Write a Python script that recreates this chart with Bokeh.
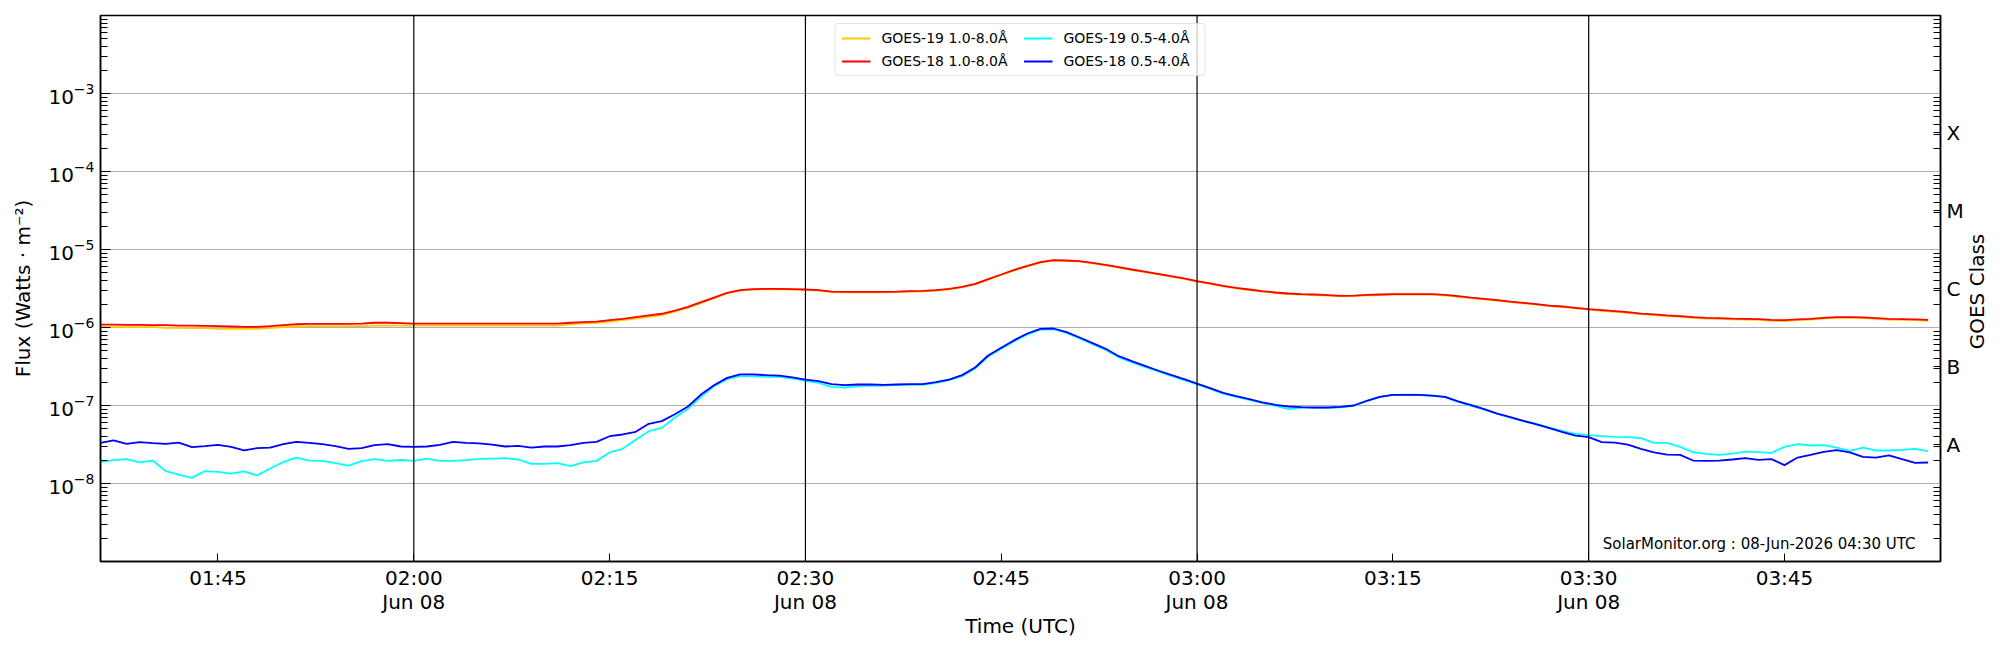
import math
import pandas as pd
from bokeh.plotting import figure
from bokeh.layouts import row
from bokeh.models import (Range1d, FixedTicker, LogAxis, Span, Label, Legend, LegendItem)
from bokeh.embed import file_html
from bokeh.resources import INLINE

# ---------------- data (1-minute cadence from 01:36 UTC, 08 Jun 2026) ----------------
start_time = "2026-06-08 01:36:00"

goes18_long = [  # GOES-18 1.0-8.0 A
    1.09e-6, 1.09e-6, 1.08e-6, 1.08e-6, 1.07e-6, 1.07e-6, 1.06e-6, 1.06e-6, 1.05e-6, 1.04e-6, 1.03e-6, 1.02e-6,
    1.02e-6, 1.04e-6, 1.07e-6, 1.10e-6, 1.11e-6, 1.11e-6, 1.11e-6, 1.11e-6, 1.12e-6, 1.15e-6, 1.15e-6, 1.14e-6,
    1.12e-6, 1.12e-6, 1.12e-6, 1.12e-6, 1.12e-6, 1.12e-6, 1.12e-6, 1.12e-6, 1.12e-6, 1.12e-6, 1.12e-6, 1.12e-6,
    1.15e-6, 1.17e-6, 1.19e-6, 1.24e-6, 1.29e-6, 1.36e-6, 1.43e-6, 1.50e-6, 1.65e-6, 1.84e-6, 2.11e-6, 2.42e-6,
    2.78e-6, 3.01e-6, 3.10e-6, 3.13e-6, 3.13e-6, 3.10e-6, 3.07e-6, 3.01e-6, 2.89e-6, 2.87e-6, 2.87e-6, 2.87e-6,
    2.87e-6, 2.89e-6, 2.92e-6, 2.95e-6, 3.01e-6, 3.13e-6, 3.32e-6, 3.63e-6, 4.17e-6, 4.78e-6, 5.49e-6,
    6.17e-6, 6.88e-6, 7.30e-6, 7.23e-6, 7.09e-6, 6.75e-6, 6.36e-6, 5.94e-6, 5.54e-6, 5.22e-6, 4.88e-6, 4.55e-6,
    4.25e-6, 3.93e-6, 3.67e-6, 3.42e-6, 3.23e-6, 3.07e-6, 2.92e-6, 2.81e-6, 2.73e-6, 2.68e-6, 2.65e-6,
    2.60e-6, 2.55e-6, 2.57e-6, 2.62e-6, 2.65e-6, 2.68e-6, 2.68e-6, 2.68e-6, 2.68e-6, 2.62e-6, 2.52e-6, 2.42e-6,
    2.33e-6, 2.24e-6, 2.15e-6, 2.07e-6, 1.99e-6, 1.91e-6, 1.86e-6, 1.79e-6, 1.72e-6, 1.67e-6, 1.62e-6, 1.57e-6,
    1.51e-6, 1.47e-6, 1.43e-6, 1.40e-6, 1.36e-6, 1.33e-6, 1.32e-6, 1.30e-6, 1.29e-6, 1.28e-6, 1.25e-6, 1.24e-6,
    1.27e-6, 1.29e-6, 1.33e-6, 1.36e-6, 1.36e-6, 1.35e-6, 1.32e-6, 1.29e-6, 1.28e-6, 1.27e-6, 1.25e-6,
]

goes19_long = [  # GOES-19 1.0-8.0 A
    1.02e-6, 1.01e-6, 1.01e-6, 1.01e-6, 1.01e-6, 0.99e-6, 0.99e-6, 0.98e-6, 0.98e-6, 0.96e-6, 0.96e-6, 0.96e-6,
    0.96e-6, 0.98e-6, 1.01e-6, 1.03e-6, 1.04e-6, 1.04e-6, 1.04e-6, 1.04e-6, 1.04e-6, 1.06e-6, 1.06e-6, 1.06e-6,
    1.06e-6, 1.06e-6, 1.06e-6, 1.06e-6, 1.06e-6, 1.06e-6, 1.06e-6, 1.06e-6, 1.06e-6, 1.06e-6, 1.06e-6, 1.06e-6,
    1.10e-6, 1.13e-6, 1.15e-6, 1.19e-6, 1.24e-6, 1.30e-6, 1.37e-6, 1.44e-6, 1.60e-6, 1.79e-6, 2.05e-6, 2.38e-6,
    2.74e-6, 2.97e-6, 3.06e-6, 3.09e-6, 3.09e-6, 3.06e-6, 3.03e-6, 2.97e-6, 2.85e-6, 2.83e-6, 2.83e-6, 2.83e-6,
    2.83e-6, 2.85e-6, 2.88e-6, 2.91e-6, 2.97e-6, 3.09e-6, 3.27e-6, 3.58e-6, 4.11e-6, 4.71e-6, 5.41e-6,
    6.08e-6, 6.78e-6, 7.19e-6, 7.12e-6, 6.98e-6, 6.65e-6, 6.27e-6, 5.85e-6, 5.46e-6, 5.14e-6, 4.81e-6, 4.48e-6,
    4.19e-6, 3.87e-6, 3.62e-6, 3.37e-6, 3.18e-6, 3.02e-6, 2.88e-6, 2.77e-6, 2.69e-6, 2.64e-6, 2.61e-6,
    2.56e-6, 2.51e-6, 2.53e-6, 2.58e-6, 2.61e-6, 2.64e-6, 2.64e-6, 2.64e-6, 2.64e-6, 2.58e-6, 2.48e-6, 2.38e-6,
    2.30e-6, 2.21e-6, 2.12e-6, 2.04e-6, 1.96e-6, 1.88e-6, 1.83e-6, 1.76e-6, 1.69e-6, 1.64e-6, 1.59e-6, 1.54e-6,
    1.48e-6, 1.44e-6, 1.40e-6, 1.37e-6, 1.33e-6, 1.30e-6, 1.29e-6, 1.27e-6, 1.26e-6, 1.25e-6, 1.22e-6, 1.21e-6,
    1.24e-6, 1.26e-6, 1.30e-6, 1.33e-6, 1.33e-6, 1.32e-6, 1.29e-6, 1.26e-6, 1.25e-6, 1.24e-6, 1.22e-6,
]

goes18_short = [  # GOES-18 0.5-4.0 A
    3.32e-8, 3.56e-8, 3.23e-8, 3.39e-8, 3.29e-8, 3.23e-8, 3.35e-8, 2.92e-8, 3.01e-8, 3.13e-8, 2.95e-8, 2.65e-8,
    2.84e-8, 2.89e-8, 3.19e-8, 3.42e-8, 3.32e-8, 3.19e-8, 3.01e-8, 2.78e-8, 2.84e-8, 3.10e-8, 3.19e-8, 2.98e-8,
    2.95e-8, 2.98e-8, 3.13e-8, 3.42e-8, 3.32e-8, 3.26e-8, 3.16e-8, 2.98e-8, 3.04e-8, 2.89e-8, 2.98e-8, 2.98e-8,
    3.10e-8, 3.32e-8, 3.42e-8, 4.04e-8, 4.25e-8, 4.60e-8, 5.82e-8, 6.30e-8, 7.74e-8, 9.71e-8, 1.38e-7, 1.82e-7,
    2.26e-7, 2.50e-7, 2.50e-7, 2.45e-7, 2.42e-7, 2.29e-7, 2.15e-7, 2.05e-7, 1.88e-7, 1.82e-7, 1.86e-7, 1.86e-7,
    1.84e-7, 1.86e-7, 1.88e-7, 1.88e-7, 1.99e-7, 2.15e-7, 2.45e-7, 3.07e-7, 4.38e-7, 5.49e-7, 6.88e-7,
    8.38e-7, 9.61e-7, 9.71e-7, 8.71e-7, 7.44e-7, 6.30e-7, 5.33e-7, 4.29e-7, 3.70e-7, 3.23e-7, 2.81e-7, 2.47e-7,
    2.18e-7, 1.91e-7, 1.67e-7, 1.45e-7, 1.32e-7, 1.21e-7, 1.10e-7, 1.02e-7, 9.71e-8, 9.52e-8, 9.43e-8,
    9.43e-8, 9.61e-8, 1.00e-7, 1.15e-7, 1.29e-7, 1.37e-7, 1.37e-7, 1.37e-7, 1.34e-7, 1.29e-7, 1.13e-7, 1.01e-7,
    8.97e-8, 7.89e-8, 7.09e-8, 6.36e-8, 5.71e-8, 5.12e-8, 4.55e-8, 4.12e-8, 3.93e-8, 3.39e-8, 3.35e-8, 3.16e-8,
    2.78e-8, 2.50e-8, 2.35e-8, 2.33e-8, 1.97e-8, 1.95e-8, 1.97e-8, 2.03e-8, 2.11e-8, 2.01e-8, 2.05e-8, 1.72e-8,
    2.15e-8, 2.33e-8, 2.55e-8, 2.68e-8, 2.50e-8, 2.20e-8, 2.15e-8, 2.29e-8, 2.05e-8, 1.84e-8, 1.86e-8,
]

goes19_short = [  # GOES-19 0.5-4.0 A
    1.88e-8, 1.99e-8, 2.05e-8, 1.86e-8, 1.97e-8, 1.44e-8, 1.30e-8, 1.18e-8, 1.44e-8, 1.41e-8, 1.34e-8, 1.43e-8,
    1.27e-8, 1.56e-8, 1.88e-8, 2.15e-8, 1.97e-8, 1.95e-8, 1.82e-8, 1.70e-8, 1.93e-8, 2.05e-8, 1.95e-8, 2.00e-8,
    1.95e-8, 2.09e-8, 1.95e-8, 1.95e-8, 1.99e-8, 2.07e-8, 2.09e-8, 2.11e-8, 2.03e-8, 1.79e-8, 1.79e-8, 1.82e-8,
    1.67e-8, 1.86e-8, 1.95e-8, 2.50e-8, 2.78e-8, 3.63e-8, 4.69e-8, 5.17e-8, 7.02e-8, 9.07e-8, 1.29e-7, 1.77e-7,
    2.18e-7, 2.38e-7, 2.38e-7, 2.33e-7, 2.33e-7, 2.22e-7, 2.07e-7, 1.95e-7, 1.73e-7, 1.70e-7, 1.77e-7, 1.79e-7,
    1.80e-7, 1.82e-7, 1.84e-7, 1.84e-7, 1.95e-7, 2.11e-7, 2.38e-7, 2.98e-7, 4.25e-7, 5.33e-7, 6.68e-7,
    8.15e-7, 9.40e-7, 9.50e-7, 8.50e-7, 7.25e-7, 6.10e-7, 5.15e-7, 4.15e-7, 3.58e-7, 3.13e-7, 2.73e-7, 2.40e-7,
    2.12e-7, 1.86e-7, 1.63e-7, 1.42e-7, 1.29e-7, 1.18e-7, 1.07e-7, 9.90e-8, 9.00e-8, 9.30e-8, 9.35e-8,
    9.30e-8, 9.50e-8, 9.90e-8, 1.14e-7, 1.29e-7, 1.37e-7, 1.38e-7, 1.37e-7, 1.33e-7, 1.28e-7, 1.11e-7, 9.90e-8,
    8.85e-8, 7.80e-8, 7.00e-8, 6.30e-8, 5.82e-8, 5.22e-8, 4.69e-8, 4.33e-8, 4.17e-8, 4.04e-8, 3.96e-8, 3.93e-8,
    3.81e-8, 3.32e-8, 3.32e-8, 2.95e-8, 2.52e-8, 2.40e-8, 2.33e-8, 2.42e-8, 2.57e-8, 2.52e-8, 2.47e-8, 2.95e-8,
    3.19e-8, 3.07e-8, 3.10e-8, 2.89e-8, 2.62e-8, 2.89e-8, 2.65e-8, 2.65e-8, 2.70e-8, 2.78e-8, 2.60e-8,
]

x_tick_times = ["01:45", "02:00", "02:15", "02:30", "02:45", "03:00", "03:15", "03:30", "03:45"]
x_tick_labels = ["01:45", "02:00\nJun 08", "02:15", "02:30\nJun 08", "02:45",
                 "03:00\nJun 08", "03:15", "03:30\nJun 08", "03:45"]
hour_lines = ["02:00", "02:30", "03:00", "03:30"]
flux_decades = [1e-8, 1e-7, 1e-6, 1e-5, 1e-4, 1e-3]
goes_classes = ["A", "B", "C", "M", "X"]
goes_class_pos = [10 ** -7.5, 10 ** -6.5, 10 ** -5.5, 10 ** -4.5, 10 ** -3.5]
legend_labels = ["GOES-19 1.0-8.0Å", "GOES-18 1.0-8.0Å", "GOES-19 0.5-4.0Å", "GOES-18 0.5-4.0Å"]
watermark = "SolarMonitor.org : 08-Jun-2026 04:30 UTC"

FONT = "DejaVu Sans"
BORDER_L, FRAME_W, BORDER_R = 100, 1840, 26
BORDER_T, FRAME_H, BORDER_B = 15, 546, 87
TOTAL_H = BORDER_T + FRAME_H + BORDER_B
SIDE_W = 2000 - (BORDER_L + FRAME_W + BORDER_R)


def ms(hhmm):
    return pd.Timestamp("2026-06-08 " + hhmm).value // 10 ** 6


def times_for(series):
    return pd.date_range(start_time, periods=len(series), freq="1min")


minor = [m * 10.0 ** k for k in range(-9, -2) for m in range(2, 10)]

p = figure(x_axis_type="datetime", y_axis_type="log",
           frame_width=FRAME_W, frame_height=FRAME_H,
           x_range=Range1d(pd.Timestamp("2026-06-08 01:36:00"), pd.Timestamp("2026-06-08 03:56:57")),
           y_range=Range1d(1e-9, 1e-2),
           output_backend="svg", toolbar_location=None,
           min_border_left=BORDER_L, min_border_right=BORDER_R,
           min_border_top=BORDER_T, min_border_bottom=BORDER_B,
           background_fill_color="white", border_fill_color="white")

p.outline_line_color = "black"
p.outline_line_width = 1.5
p.outline_line_alpha = 1.0

# grid
p.xgrid.visible = False
p.ygrid.ticker = FixedTicker(ticks=flux_decades)
p.ygrid.grid_line_color = "#b0b0b0"
p.ygrid.grid_line_width = 1

# vertical hour lines
for t in hour_lines:
    p.add_layout(Span(location=ms(t), dimension="height", line_color="black", line_width=1.2))

# lines
r_g19l = p.line(times_for(goes19_long), goes19_long, line_color="#ffc800", line_width=1.8)
r_g18l = p.line(times_for(goes18_long), goes18_long, line_color="#ff0000", line_width=1.8)
r_g19s = p.line(times_for(goes19_short), goes19_short, line_color="#00ffff", line_width=1.8)
r_g18s = p.line(times_for(goes18_short), goes18_short, line_color="#0000ff", line_width=1.8)

# x axis
xa = p.xaxis[0]
xa.ticker = FixedTicker(ticks=[ms(t) for t in x_tick_times])
xa.major_label_overrides = {ms(t): lab for t, lab in zip(x_tick_times, x_tick_labels)}
xa.major_tick_in = 8
xa.major_tick_out = 0
xa.minor_tick_in = 0
xa.minor_tick_out = 0
xa.major_label_standoff = 4
xa.major_label_text_font = FONT
xa.major_label_text_font_size = "20px"
xa.major_label_text_line_height = 1.0
xa.major_label_text_color = "black"
xa.axis_label = "Time (UTC)"
xa.axis_label_text_font = FONT
xa.axis_label_text_font_size = "20px"
xa.axis_label_text_font_style = "normal"
xa.axis_label_text_color = "black"
xa.axis_label_standoff = -3
xa.axis_line_width = 1.5

# left y axis
ya = p.yaxis[0]
ya.ticker = FixedTicker(ticks=flux_decades, minor_ticks=minor)
ya.major_tick_in = 10
ya.major_tick_out = 0
ya.minor_tick_in = 7
ya.minor_tick_out = 0
ya.major_label_standoff = 6
ya.major_label_text_font = FONT
ya.major_label_text_font_size = "20px"
ya.major_label_text_color = "black"
ya.axis_label = "Flux (Watts · m⁻²)"
ya.axis_label_text_font = FONT
ya.axis_label_text_font_size = "20px"
ya.axis_label_text_font_style = "normal"
ya.axis_label_text_color = "black"
ya.axis_label_standoff = 10
ya.axis_line_width = 1.5

# right GOES class axis (letters only; its title sits in the narrow side panel)
ra = LogAxis(ticker=FixedTicker(ticks=goes_class_pos, minor_ticks=minor),
             major_label_overrides={v: c for v, c in zip(goes_class_pos, goes_classes)})
ra.major_tick_in = 7
ra.major_tick_out = 0
ra.minor_tick_in = 7
ra.minor_tick_out = 0
ra.major_label_standoff = 6
ra.major_label_text_font = FONT
ra.major_label_text_font_size = "20px"
ra.major_label_text_color = "black"
ra.axis_line_width = 1.5
p.add_layout(ra, "right")

# legend
legend = Legend(items=[LegendItem(label=legend_labels[0], renderers=[r_g19l]),
                       LegendItem(label=legend_labels[1], renderers=[r_g18l]),
                       LegendItem(label=legend_labels[2], renderers=[r_g19s]),
                       LegendItem(label=legend_labels[3], renderers=[r_g18s])],
                location="top_center", ncols=2,
                label_text_font=FONT, label_text_font_size="14px", label_text_color="black",
                glyph_width=29, glyph_height=16, label_standoff=11,
                label_width=135, label_height=16, spacing=7, padding=6, margin=8,
                border_line_color="#cccccc", border_line_width=1,
                background_fill_color="white", background_fill_alpha=0.8)
if "border_radius" in legend.properties():
    legend.border_radius = 4
p.add_layout(legend)

# watermark
p.add_layout(Label(x=1815, y=18, x_units="screen", y_units="screen", text=watermark,
                   text_align="right", text_baseline="middle",
                   text_font=FONT, text_font_size="15px", text_color="black"))

# narrow side panel holding the right-hand axis title, reading bottom-to-top
side = figure(width=SIDE_W, height=TOTAL_H, x_range=Range1d(0, 1), y_range=Range1d(0, 1),
              x_axis_location=None, y_axis_location=None,
              output_backend="svg", toolbar_location=None,
              min_border_left=0, min_border_right=0, min_border_top=0, min_border_bottom=0,
              background_fill_color="white", border_fill_color="white")
side.grid.visible = False
side.outline_line_color = None
side.add_layout(Label(x=1976 - (BORDER_L + FRAME_W + BORDER_R), y=270,
                      x_units="screen", y_units="screen", text="GOES Class",
                      angle=math.pi / 2, text_align="center", text_baseline="middle",
                      text_font=FONT, text_font_size="20px", text_color="black"))

layout = row(p, side, spacing=0)
open("out.html", "w").write(file_html(layout, INLINE))
